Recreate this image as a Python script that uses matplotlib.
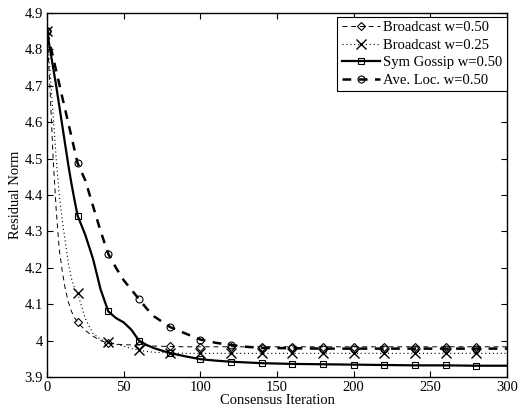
import matplotlib
matplotlib.use("Agg")
import matplotlib.pyplot as plt
import numpy as np

plt.rcParams['font.family'] = ['Liberation Serif', 'DejaVu Serif']
plt.rcParams['mathtext.fontset'] = 'stix'

# iterations at which values were read
iters = [0, 2, 4, 6, 8, 10, 12, 14, 16, 18, 20, 25, 30, 35, 40, 45, 50, 55, 60, 65, 70,
         80, 90, 100, 110, 120, 130, 140, 160, 180, 200, 220, 240, 260, 280, 300]

bcast_050 = [4.85, 4.69, 4.50, 4.36, 4.25, 4.19, 4.14, 4.105, 4.08, 4.063, 4.05, 4.028, 4.012,
             4.000, 3.993, 3.990, 3.989, 3.988, 3.988, 3.986, 3.985,
             3.984, 3.983, 3.983, 3.983, 3.983, 3.983, 3.983, 3.983, 3.983, 3.983, 3.983,
             3.983, 3.983, 3.983, 3.983]

bcast_025 = [4.85, 4.74, 4.62, 4.50, 4.40, 4.33, 4.27, 4.21, 4.17, 4.145, 4.13, 4.06, 4.02,
             4.003, 3.997, 3.990, 3.985, 3.978, 3.974, 3.970, 3.968,
             3.966, 3.965, 3.965, 3.965, 3.965, 3.965, 3.965, 3.965, 3.965, 3.965, 3.965,
             3.965, 3.965, 3.965, 3.965]

sym_gossip = [4.85, 4.80, 4.75, 4.70, 4.645, 4.59, 4.535, 4.48, 4.43, 4.385, 4.343, 4.29, 4.225,
              4.14, 4.08, 4.062, 4.050, 4.030, 4.000, 3.988, 3.979,
              3.966, 3.957, 3.949, 3.945, 3.942, 3.940, 3.938, 3.936, 3.935, 3.934, 3.933,
              3.932, 3.932, 3.931, 3.931]

ave_loc = [4.85, 4.814, 4.778, 4.741, 4.705, 4.668, 4.632, 4.596, 4.560, 4.523, 4.487, 4.44, 4.37,
           4.30, 4.238, 4.20, 4.166, 4.14, 4.114, 4.088, 4.066,
           4.038, 4.02, 4.003, 3.994, 3.988, 3.983, 3.980, 3.979, 3.978, 3.978, 3.978,
           3.978, 3.978, 3.978, 3.978]

labels = ['Broadcast w=0.50', 'Broadcast w=0.25', 'Sym Gossip w=0.50', 'Ave. Loc. w=0.50']

x_ticks = [0, 50, 100, 150, 200, 250, 300]
y_ticks = [3.9, 4.0, 4.1, 4.2, 4.3, 4.4, 4.5, 4.6, 4.7, 4.8, 4.9]
y_tick_labels = ['3.9', '4', '4.1', '4.2', '4.3', '4.4', '4.5', '4.6', '4.7', '4.8', '4.9']

fig = plt.figure(figsize=(5.18, 4.11), dpi=100)
ax = fig.add_axes([0.0907, 0.0827, 0.8881, 0.8857])

mk = [i for i, v in enumerate(iters) if v % 20 == 0 and v < 300]

ax.plot(iters, bcast_050, color='black', lw=0.7, ls=(0, (5, 4)), marker='D', ms=4.5,
        mfc='none', mec='black', mew=0.8, markevery=mk, label=labels[0])
ax.plot(iters, bcast_025, color='black', lw=0.8, ls=(0, (1, 2.5)), marker='x', ms=7,
        mec='black', mew=1.0, markevery=mk, label=labels[1])
ax.plot(iters, sym_gossip, color='black', lw=1.6, ls='-', marker='s', ms=4.5,
        mfc='none', mec='black', mew=0.8, markevery=mk, label=labels[2])
ax.plot(iters, ave_loc, color='black', lw=1.8, ls=(0, (3.5, 3)), marker='o', ms=5,
        mfc='none', mec='black', mew=0.8, markevery=mk, label=labels[3])

ax.set_xlim(0, 300)
ax.set_ylim(3.9, 4.9)
ax.set_xticks(x_ticks)
ax.set_xticklabels([str(t) for t in x_ticks])
ax.set_yticks(y_ticks)
ax.set_yticklabels(y_tick_labels)
ax.tick_params(direction='in', top=True, right=True, labelsize=10.5, length=4, width=0.8, pad=3)
for s in ax.spines.values():
    s.set_linewidth(1.0)

ax.set_xlabel('Consensus Iteration', fontsize=10.5, labelpad=0)
ax.set_ylabel('Residual Norm', fontsize=10.5, labelpad=2)

leg = ax.legend(loc='upper right', bbox_to_anchor=(1.0, 0.99), borderaxespad=0,
                fontsize=10.5, frameon=True, fancybox=False, edgecolor='black',
                handlelength=2.6, handletextpad=0.25, labelspacing=0.3,
                borderpad=0.3, framealpha=1)
leg.get_frame().set_linewidth(0.8)

fig.savefig('out.png', dpi=100)
